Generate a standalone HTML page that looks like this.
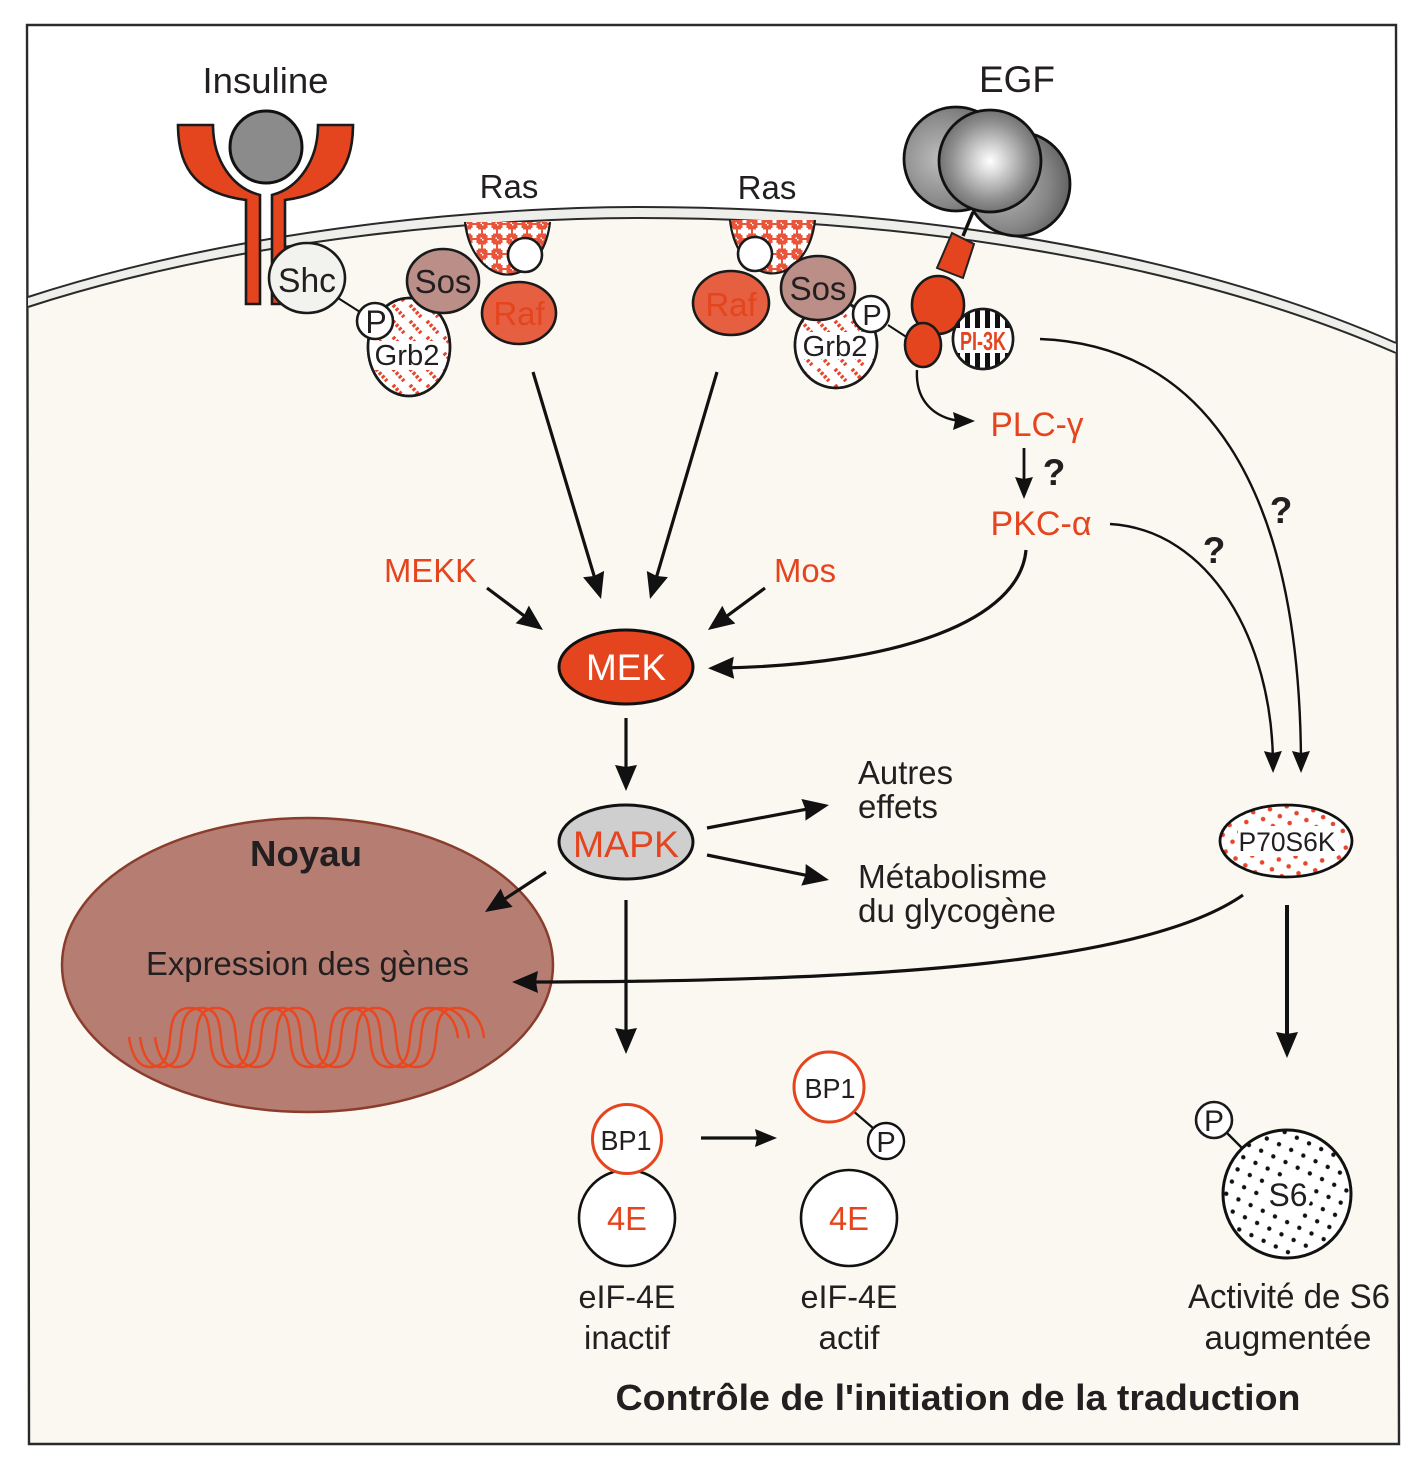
<!DOCTYPE html>
<html><head><meta charset="utf-8"><style>
html,body{margin:0;padding:0;background:#fff}
svg{display:block}
text{font-family:"Liberation Sans",sans-serif;fill:#231f20}
.o{stroke:#1a1a1a;stroke-width:2.6}
</style></head><body>
<svg xmlns="http://www.w3.org/2000/svg" width="1424" height="1467" viewBox="0 0 1424 1467">
<defs>
<marker id="a" markerUnits="userSpaceOnUse" markerWidth="30" markerHeight="26" refX="14" refY="12" orient="auto"><path d="M0 1 L26 12 L0 23 L2 12Z" fill="#111"/></marker>
<marker id="b" markerUnits="userSpaceOnUse" markerWidth="26" markerHeight="22" refX="12" refY="10" orient="auto"><path d="M0 1 L22 10 L0 19 L2 10Z" fill="#111"/></marker>
<pattern id="ras" width="15" height="15" patternUnits="userSpaceOnUse" patternTransform="translate(467 224)"><rect width="15" height="15" fill="#e8553a"/><rect x="5.500" y="1" width="4" height="13" fill="#fff"/><rect x="1" y="5.500" width="13" height="4" fill="#fff"/><rect x="4" y="4" width="7" height="7" fill="#fff"/><rect x="-1" y="-1" width="2.500" height="2.500" fill="#fff"/><rect x="13.500" y="13.500" width="2.500" height="2.500" fill="#fff"/></pattern>
<pattern id="grb" width="17" height="16" patternUnits="userSpaceOnUse"><rect width="17" height="16" fill="#fff"/><path d="M2 1 L13 13" stroke="#e8452a" stroke-width="3.800" stroke-dasharray="2.800 1.800"/></pattern>
<pattern id="p70" width="17" height="17" patternUnits="userSpaceOnUse" patternTransform="translate(1222 805) rotate(-10)"><rect width="17" height="17" fill="#fff"/><circle cx="4" cy="4" r="2.300" fill="#e8452a"/><circle cx="12.500" cy="12.500" r="2.300" fill="#e8452a"/></pattern>
<pattern id="s6" width="19" height="19" patternUnits="userSpaceOnUse" patternTransform="rotate(-20 1287 1194)"><rect width="19" height="19" fill="#fff"/><circle cx="4.500" cy="4.500" r="2.200" fill="#111"/><circle cx="14" cy="14" r="2.200" fill="#111"/></pattern>
<pattern id="pi" width="10" height="8" patternUnits="userSpaceOnUse" patternTransform="translate(955 300)"><rect width="10" height="8" fill="#fff"/><rect width="5" height="8" fill="#111"/></pattern>
<radialGradient id="sp1" cx="50%" cy="50%" r="55%"><stop offset="0" stop-color="#fff"/><stop offset=".25" stop-color="#d8d8d8"/><stop offset=".7" stop-color="#8e8e8e"/><stop offset="1" stop-color="#666"/></radialGradient>
<radialGradient id="sp2" cx="35%" cy="50%" r="75%"><stop offset="0" stop-color="#bdbdbd"/><stop offset=".6" stop-color="#858585"/><stop offset="1" stop-color="#525252"/></radialGradient>
<clipPath id="gl"><ellipse cx="409" cy="347" rx="40" ry="48"/></clipPath>
<clipPath id="gr"><ellipse cx="836" cy="345" rx="40" ry="42"/></clipPath>
<clipPath id="pic"><circle cx="983" cy="339" r="29"/></clipPath>
<path id="dna" d="M129 1037 C132 1058 140 1067 150 1067 C184 1067 156 1008 190 1008 C224 1008 196 1067 230 1067 C264 1067 236 1008 270 1008 C304 1008 276 1067 310 1067 C344 1067 316 1008 350 1008 C384 1008 356 1067 390 1067 C424 1067 396 1008 430 1008 C446 1008 456 1020 458 1038" fill="none" stroke="#e8481f" stroke-width="2.500"/>
</defs>

<rect width="1424" height="1467" fill="#fff"/>
<!-- cell body -->
<path d="M28 297 C250 225 500 207 640 207 C850 207 1150 235 1396 343 L1399 1444 L29 1444Z" fill="#fbf8f1"/>
<!-- frame -->
<path d="M27 25 L1396 25 L1399 1444 L29 1444Z" fill="none" stroke="#2a2a2a" stroke-width="2.400"/>
<!-- membrane -->
<path d="M28 297 C250 225 500 207 640 207 C850 207 1150 235 1396 343 L1396 354 C1150 246 850 218 640 218 C500 218 250 236 28 308Z" fill="#eeeeea"/>
<path d="M28 297 C250 225 500 207 640 207 C850 207 1150 235 1396 343" fill="none" stroke="#2a2a2a" stroke-width="2"/>
<path d="M28 307 C250 235 500 218 640 218 C850 218 1150 246 1396 353" fill="none" stroke="#2a2a2a" stroke-width="2"/>

<!-- Insulin receptor -->
<path class="o" fill="#e4451f" d="M178 125 H213 C213 160 232 188 260 195 V304 H246 V200 C200 194 178 172 178 125Z"/>
<path class="o" fill="#e4451f" d="M353 125 H318 C318 160 299 188 272 195 V304 H285 V200 C331 194 353 172 353 125Z"/>
<circle cx="266" cy="147" r="36" fill="#8b8b8b" stroke="#111" stroke-width="3"/>
<line x1="338" y1="298" x2="360" y2="312" stroke="#111" stroke-width="2"/>
<ellipse cx="307" cy="278" rx="38" ry="35" fill="#f2f2ef" class="o"/>
<text x="307" y="292" font-size="34" text-anchor="middle" textLength="58" lengthAdjust="spacingAndGlyphs">Shc</text>

<!-- Ras left group -->
<path d="M465 222 A43 62 0 0 0 550 222Z" fill="url(#ras)"/>
<path d="M465 222 A43 62 0 0 0 550 222" fill="none" stroke="#1a1a1a" stroke-width="2.200"/>
<circle cx="525" cy="255" r="17" fill="#fff" class="o"/>
<ellipse cx="519" cy="313" rx="37" ry="31" fill="#e55f40" class="o"/>
<text x="519" y="325" font-size="33" text-anchor="middle" style="fill:#e4451f">Raf</text>
<ellipse cx="409" cy="347" rx="41" ry="49" fill="url(#grb)" class="o"/>
<rect x="368" y="341" width="72" height="29" fill="#fff" clip-path="url(#gl)"/>
<ellipse cx="409" cy="347" rx="41" ry="49" fill="none" class="o"/>
<ellipse cx="443" cy="281" rx="36" ry="32" fill="#bb8e88" class="o"/>
<text x="443" y="293" font-size="33" text-anchor="middle">Sos</text>
<circle cx="375" cy="321" r="18" fill="#fff" class="o"/>
<text x="376" y="333" font-size="32" text-anchor="middle">P</text>
<text x="407" y="365" font-size="29" text-anchor="middle" textLength="65" lengthAdjust="spacingAndGlyphs">Grb2</text>
<text x="509" y="198" font-size="33" text-anchor="middle">Ras</text>

<!-- Ras right group -->
<path d="M730 220 A43 63 0 0 0 815 220Z" fill="url(#ras)"/>
<path d="M730 220 A43 63 0 0 0 815 220" fill="none" stroke="#1a1a1a" stroke-width="2.200"/>
<circle cx="755" cy="254" r="17" fill="#fff" class="o"/>
<ellipse cx="731" cy="303" rx="38" ry="32" fill="#e55f40" class="o"/>
<text x="731" y="316" font-size="33" text-anchor="middle" style="fill:#e4451f">Raf</text>
<ellipse cx="836" cy="345" rx="41" ry="43" fill="url(#grb)" class="o"/>
<rect x="796" y="332" width="80" height="27" fill="#fff" clip-path="url(#gr)"/>
<ellipse cx="836" cy="345" rx="41" ry="43" fill="none" class="o"/>
<ellipse cx="818" cy="288" rx="37" ry="32" fill="#bb8e88" class="o"/>
<text x="818" y="300" font-size="33" text-anchor="middle">Sos</text>
<line x1="888" y1="325" x2="908" y2="338" stroke="#111" stroke-width="2"/>
<circle cx="871" cy="314" r="18" fill="#fff" class="o"/>
<text x="872" y="325" font-size="29" text-anchor="middle">P</text>
<text x="835" y="356" font-size="29" text-anchor="middle" textLength="65" lengthAdjust="spacingAndGlyphs">Grb2</text>
<text x="767" y="199" font-size="33" text-anchor="middle">Ras</text>

<!-- EGF -->
<text x="1017" y="92" font-size="37" text-anchor="middle" textLength="76" lengthAdjust="spacingAndGlyphs">EGF</text>
<line x1="973" y1="212" x2="963" y2="236" stroke="#111" stroke-width="3.500"/>
<circle cx="956" cy="159" r="52" fill="url(#sp2)" stroke="#111" stroke-width="2.800"/>
<circle cx="1018" cy="184" r="52" fill="url(#sp2)" stroke="#111" stroke-width="2.800"/>
<circle cx="990" cy="161" r="51" fill="url(#sp1)" stroke="#111" stroke-width="2.800"/>
<polygon points="952,233 974,244 963,278 937,268" fill="#e4451f" stroke="#222" stroke-width="2"/>
<ellipse cx="938" cy="305" rx="26" ry="29" fill="#e4451f" class="o"/>
<circle cx="983" cy="339" r="30" fill="url(#pi)" class="o"/>
<rect x="950" y="328" width="66" height="25" fill="#fff" clip-path="url(#pic)"/>
<circle cx="983" cy="339" r="30" fill="none" class="o"/>
<text x="983" y="350" font-size="26" font-weight="bold" text-anchor="middle" textLength="46" lengthAdjust="spacingAndGlyphs" style="fill:#e4451f">PI-3K</text>
<ellipse cx="923" cy="345" rx="18" ry="22" fill="#e4451f" class="o"/>

<!-- Insuline -->
<text x="265.500" y="93" font-size="36.500" text-anchor="middle" textLength="126" lengthAdjust="spacingAndGlyphs">Insuline</text>

<!-- Arrows -->
<g style="fill:none;stroke:#111;stroke-width:3.2">
<line x1="533" y1="372" x2="597.600" y2="587.500" marker-end="url(#a)"/>
<line x1="717" y1="372" x2="653.400" y2="587.500" marker-end="url(#a)"/>
<line x1="487" y1="588" x2="533.400" y2="622.800" marker-end="url(#a)"/>
<line x1="765" y1="588" x2="717.600" y2="622.900" marker-end="url(#a)"/>
<line x1="626" y1="718" x2="626" y2="779" marker-end="url(#a)"/>
<line x1="707" y1="828" x2="817.200" y2="807.200" marker-end="url(#a)"/>
<line x1="707" y1="855" x2="817.200" y2="877.600" marker-end="url(#a)"/>
<line x1="626" y1="900" x2="626" y2="1042" marker-end="url(#a)"/>
<line x1="1024" y1="448" x2="1024" y2="489" stroke-width="2.800" marker-end="url(#b)"/>
<line x1="1287" y1="905" x2="1287" y2="1046" stroke-width="4" marker-end="url(#a)"/>
<line x1="701" y1="1138" x2="767" y2="1138" marker-end="url(#b)"/>
<path d="M917 370 C915 405 940 421 965 421" stroke-width="2.400" marker-end="url(#b)"/>
<path d="M1040 339 C1200 345 1300 480 1301 763" stroke-width="2.400" marker-end="url(#b)"/>
<path d="M1110 524 C1210 530 1272 640 1273 763" stroke-width="2.400" marker-end="url(#b)"/>
<path d="M1026 550 C1020 620 900 665 720 668" marker-end="url(#a)"/>
</g>

<!-- Labels -->
<text x="430.500" y="582" font-size="33" text-anchor="middle" textLength="93" lengthAdjust="spacingAndGlyphs" style="fill:#e4451f">MEKK</text>
<text x="805" y="582" font-size="33" text-anchor="middle" textLength="62" lengthAdjust="spacingAndGlyphs" style="fill:#e4451f">Mos</text>
<text x="1037" y="436" font-size="34" text-anchor="middle" textLength="93" lengthAdjust="spacingAndGlyphs" style="fill:#e4451f">PLC-γ</text>
<text x="1041" y="535" font-size="34" text-anchor="middle" textLength="101" lengthAdjust="spacingAndGlyphs" style="fill:#e4451f">PKC-α</text>
<text x="1054" y="485" font-size="37" font-weight="bold" text-anchor="middle">?</text>
<text x="1214" y="563" font-size="37" font-weight="bold" text-anchor="middle">?</text>
<text x="1281" y="523" font-size="37" font-weight="bold" text-anchor="middle">?</text>

<!-- MEK / MAPK -->
<ellipse cx="626" cy="667" rx="67" ry="37" fill="#e4451f" stroke="#111" stroke-width="3"/>
<text x="626" y="680" font-size="37" text-anchor="middle" textLength="80" lengthAdjust="spacingAndGlyphs" style="fill:#fff">MEK</text>
<ellipse cx="626" cy="842" rx="67" ry="37" fill="#cfcfcf" stroke="#111" stroke-width="3"/>
<text x="626" y="857" font-size="37.500" text-anchor="middle" textLength="106" lengthAdjust="spacingAndGlyphs" style="fill:#e4451f">MAPK</text>

<text x="858" y="784" font-size="33" textLength="95" lengthAdjust="spacingAndGlyphs">Autres</text>
<text x="858" y="818" font-size="33" textLength="80" lengthAdjust="spacingAndGlyphs">effets</text>
<text x="858" y="888" font-size="33" textLength="189" lengthAdjust="spacingAndGlyphs">Métabolisme</text>
<text x="858" y="922" font-size="33" textLength="198" lengthAdjust="spacingAndGlyphs">du glycogène</text>

<!-- Nucleus -->
<ellipse cx="307.500" cy="965" rx="245.500" ry="147" fill="#b67e72" stroke="#8a3d2c" stroke-width="2.500"/>
<text x="306" y="866" font-size="36.500" font-weight="bold" text-anchor="middle" textLength="112" lengthAdjust="spacingAndGlyphs">Noyau</text>
<text x="307.500" y="975" font-size="33" text-anchor="middle" textLength="323" lengthAdjust="spacingAndGlyphs">Expression des gènes</text>
<use href="#dna"/>
<use href="#dna" x="11"/>
<use href="#dna" x="26"/>
<g style="fill:none;stroke:#111;stroke-width:3.200">
<path d="M1243 895 C1150 960 900 982 524 982" marker-end="url(#a)"/>
<line x1="546" y1="872" x2="495" y2="905.400" marker-end="url(#a)"/>
</g>

<!-- P70S6K -->
<ellipse cx="1286" cy="841" rx="66" ry="36" fill="url(#p70)" stroke="#111" stroke-width="2.800"/>
<rect x="1238" y="826" width="100" height="30" fill="#fff"/>
<text x="1287" y="851" font-size="26.500" text-anchor="middle" textLength="97" lengthAdjust="spacingAndGlyphs">P70S6K</text>

<!-- S6 -->
<line x1="1227" y1="1133" x2="1243" y2="1149" stroke="#111" stroke-width="2.400"/>
<circle cx="1287" cy="1194" r="64" fill="url(#s6)" stroke="#111" stroke-width="3"/>
<ellipse cx="1288" cy="1195" rx="24" ry="19" fill="#fff"/>
<text x="1288" y="1206" font-size="32" text-anchor="middle" textLength="39" lengthAdjust="spacingAndGlyphs">S6</text>
<circle cx="1214" cy="1120" r="18" fill="#fff" class="o"/>
<text x="1214" y="1131" font-size="30" text-anchor="middle">P</text>
<text x="1289" y="1308" font-size="34" text-anchor="middle" textLength="202" lengthAdjust="spacingAndGlyphs">Activité de S6</text>
<text x="1288" y="1349" font-size="33" text-anchor="middle" textLength="167" lengthAdjust="spacingAndGlyphs">augmentée</text>

<!-- eIF-4E -->
<circle cx="627" cy="1218" r="48" fill="#fff" stroke="#111" stroke-width="2.600"/>
<circle cx="627" cy="1139" r="34.500" fill="#fff" stroke="#e4451f" stroke-width="3"/>
<text x="626" y="1150" font-size="28" text-anchor="middle" textLength="51" lengthAdjust="spacingAndGlyphs">BP1</text>
<text x="627" y="1230" font-size="33" text-anchor="middle" textLength="40" lengthAdjust="spacingAndGlyphs" style="fill:#e4451f">4E</text>
<text x="627" y="1308" font-size="32.500" text-anchor="middle" textLength="97" lengthAdjust="spacingAndGlyphs">eIF-4E</text>
<text x="627" y="1349" font-size="33" text-anchor="middle" textLength="86" lengthAdjust="spacingAndGlyphs">inactif</text>

<line x1="852" y1="1110" x2="873" y2="1128" stroke="#111" stroke-width="2.200"/>
<circle cx="829" cy="1087" r="35" fill="#fff" stroke="#e4451f" stroke-width="3"/>
<text x="830" y="1098" font-size="28" text-anchor="middle" textLength="51" lengthAdjust="spacingAndGlyphs">BP1</text>
<circle cx="886" cy="1141" r="18" fill="#fff" stroke="#111" stroke-width="2.400"/>
<text x="886" y="1152" font-size="29" text-anchor="middle">P</text>
<circle cx="849" cy="1218" r="48" fill="#fff" stroke="#111" stroke-width="2.600"/>
<text x="849" y="1230" font-size="33" text-anchor="middle" textLength="40" lengthAdjust="spacingAndGlyphs" style="fill:#e4451f">4E</text>
<text x="849" y="1308" font-size="32.500" text-anchor="middle" textLength="97" lengthAdjust="spacingAndGlyphs">eIF-4E</text>
<text x="849" y="1349" font-size="33" text-anchor="middle" textLength="61" lengthAdjust="spacingAndGlyphs">actif</text>

<text x="958" y="1410" font-size="36.500" font-weight="bold" text-anchor="middle" textLength="685" lengthAdjust="spacingAndGlyphs">Contrôle de l'initiation de la traduction</text>
</svg>
</body></html>
